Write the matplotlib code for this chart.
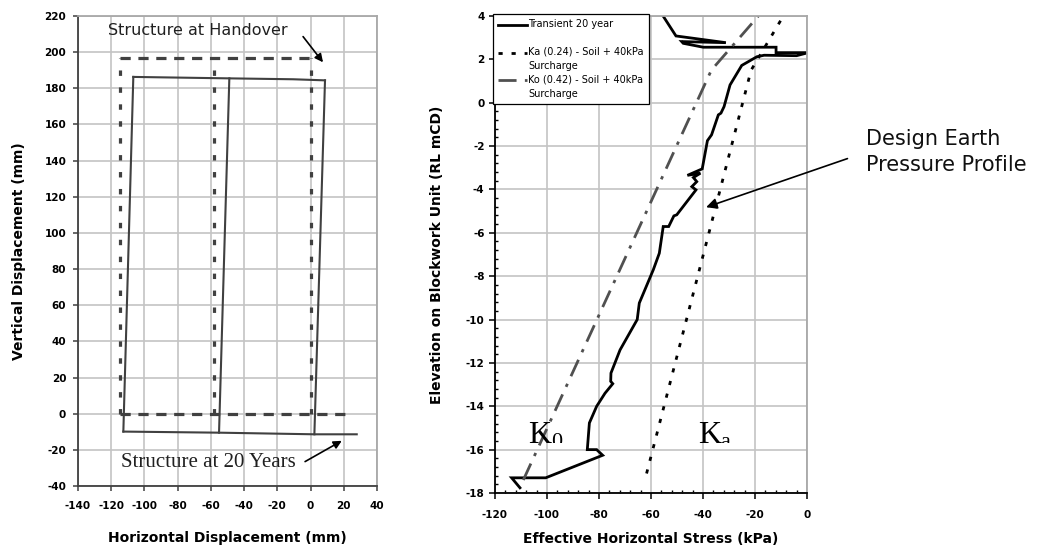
import matplotlib

matplotlib.use("Agg")
import matplotlib.pyplot as plt
import numpy as np
from matplotlib.legend_handler import HandlerLine2D
from matplotlib.ticker import MultipleLocator
from matplotlib.transforms import Bbox, TransformedBbox


# ---- left chart: wall displacement (mm) ----
handover_top_x = [-115, 0]
handover_top_y = [197, 197]
handover_base_x = [-115, 25]
handover_base_y = [0, 0]
handover_wall_x = [-115, -58, 0]
handover_wall_bottom = [0, 0, 0]
handover_wall_top = [197, 197, 197]

year20_top_x = [-106.7, -48.9, -10.4, 8.7]
year20_top_y = [186.3, 185.5, 185.0, 184.4]
year20_base_x = [-112.7, -55.1, 2.3, 27.8]
year20_base_y = [-9.9, -10.5, -11.4, -11.4]
year20_wall_base_x = [-112.7, -55.1, 2.3]
year20_wall_base_y = [-9.9, -10.5, -11.4]
year20_wall_top_x = [-106.7, -48.9, 8.7]
year20_wall_top_y = [186.3, 185.5, 184.4]

# ---- right chart: earth pressure profile ----
transient_stress = [-57.5, -50.4, -31.2, -48.2, -47.6, -39.9, -11.9, -11.9, 0.5, -4.0,
                    -16.5, -19.3, -25.1, -29.6, -31.9, -33.1, -34.1, -36.7, -38.3, -40.3,
                    -46.0, -41.0, -43.7, -42.4, -44.3, -42.7, -50.1, -51.2, -53.2, -55.3,
                    -56.8, -59.1, -64.5, -65.3, -71.9, -75.4, -75.5, -74.7, -77.7, -80.9,
                    -83.7, -84.5, -80.9, -78.6, -100.5, -113.6, -110.4]
transient_elev = [4.4, 3.08, 2.77, 2.82, 2.74, 2.56, 2.56, 2.31, 2.31, 2.17,
                  2.19, 2.12, 1.72, 0.82, -0.18, -0.48, -0.56, -1.48, -1.75, -3.05,
                  -3.35, -3.25, -3.45, -3.64, -3.87, -4.02, -5.17, -5.22, -5.71, -5.71,
                  -6.94, -7.7, -9.24, -10.0, -11.4, -12.47, -12.85, -12.96, -13.4, -14.0,
                  -14.77, -16.0, -16.0, -16.26, -17.3, -17.3, -17.76]

ka_stress = [-61.7, -21.5, -9.1]
ka_elev = [-17.1, 1.5, 4.0]
k0_stress = [-109.1, -36.8, -18.7]
k0_elev = [-17.4, 1.5, 4.0]

legend_labels = ["Transient 20 year\n",
                 "Ka (0.24) - Soil + 40kPa\nSurcharge",
                 "Ko (0.42) - Soil + 40kPa\nSurcharge"]

plt.rcParams["axes.unicode_minus"] = False
plt.rcParams["font.family"] = "DejaVu Sans"

W, H = 1044, 549
fig = plt.figure(figsize=(W / 100, H / 100), dpi=100)

GRID = "#c4c4c4"
DARK = "#404040"


def px_axes(left, top, right, bottom):
    return fig.add_axes([left / W, 1 - bottom / H, (right - left) / W, (bottom - top) / H])


def style_frame(ax, dark):
    for side in ("left", "bottom"):
        ax.spines[side].set_color(dark)
        ax.spines[side].set_linewidth(1.3)
    for side in ("top", "right"):
        ax.spines[side].set_color("#a8a8a8")
        ax.spines[side].set_linewidth(1.3)
    ax.grid(True, color=GRID, linewidth=1.2)
    ax.set_axisbelow(True)


# ---------------- left ----------------
ax1 = px_axes(78, 16, 377, 486)
ax1.set_xlim(-140, 40)
ax1.set_ylim(-40, 220)
ax1.xaxis.set_major_locator(MultipleLocator(20))
ax1.yaxis.set_major_locator(MultipleLocator(20))
style_frame(ax1, DARK)
ax1.tick_params(axis="both", direction="out", length=3.5, width=1.1, color=DARK, labelsize=7.5)
ax1.tick_params(axis="x", pad=7.5)
ax1.tick_params(axis="y", pad=5)
for lab in ax1.get_xticklabels() + ax1.get_yticklabels():
    lab.set_fontweight("bold")

dash = (0, (3.2, 2.4))
dots = (0, (1.7, 3.6))
ax1.plot(handover_top_x, handover_top_y, color=DARK, linewidth=2.3, linestyle=dash)
ax1.plot(handover_base_x, handover_base_y, color=DARK, linewidth=2.3, linestyle=dash)
ax1.vlines(handover_wall_x, handover_wall_bottom, handover_wall_top, color=DARK,
           linewidth=2.3, linestyles=[dots])

ax1.plot(year20_top_x, year20_top_y, color=DARK, linewidth=1.5)
ax1.plot(year20_base_x, year20_base_y, color=DARK, linewidth=1.5)
for xb, yb, xt, yt in zip(year20_wall_base_x, year20_wall_base_y,
                          year20_wall_top_x, year20_wall_top_y):
    ax1.plot([xb, xt], [yb, yt], color=DARK, linewidth=1.5)

ax1.text(-67.8, 212, "Structure at Handover", fontsize=11.5, ha="center", va="center",
         color="#202020")
ax1.annotate("", xy=(7.5, 194.4), xytext=(-4.5, 208.6),
             arrowprops=dict(arrowstyle="-|>", color="black", lw=1.2,
                             mutation_scale=12, shrinkA=0, shrinkB=0))
ax1.text(-61.7, -27, "Structure at 20 Years", fontsize=15, ha="center", va="center",
         family="Liberation Serif", color="#202020")
ax1.annotate("", xy=(18.8, -15), xytext=(-3.3, -26.5),
             arrowprops=dict(arrowstyle="-|>", color="black", lw=1.2,
                             mutation_scale=12, shrinkA=0, shrinkB=0))

ax1.set_xlabel("Horizontal Displacement (mm)", fontsize=10, fontweight="bold")
ax1.set_ylabel("Vertical Displacement (mm)", fontsize=10, fontweight="bold")
ax1.xaxis.set_label_coords(0.5, -0.096)
ax1.yaxis.set_label_coords(-0.175, 0.5)

# ---------------- right ----------------
ax2 = px_axes(495, 16, 807, 493)
ax2.set_xlim(-120, 0)
ax2.set_ylim(-18, 4)
ax2.xaxis.set_major_locator(MultipleLocator(20))
ax2.xaxis.set_minor_locator(MultipleLocator(4))
ax2.yaxis.set_major_locator(MultipleLocator(2))
ax2.yaxis.set_minor_locator(MultipleLocator(0.4))
style_frame(ax2, "black")
ax2.grid(False, which="minor")
ax2.tick_params(axis="both", which="major", direction="out", length=4, width=1.1,
                labelsize=7.5)
ax2.tick_params(axis="both", which="minor", direction="in", length=2.5, width=1.0)
ax2.tick_params(axis="x", which="major", pad=8.5)
ax2.tick_params(axis="y", which="major", pad=3.5)
for lab in ax2.get_xticklabels() + ax2.get_yticklabels():
    lab.set_fontweight("bold")

(l_tr,) = ax2.plot(transient_stress, transient_elev, color="black", linewidth=2.0,
                   solid_joinstyle="miter")
(l_ka,) = ax2.plot(ka_stress, ka_elev, color="black", linewidth=2.0,
                   linestyle=(0, (1.5, 3.2)))
(l_k0,) = ax2.plot(k0_stress, k0_elev, color="#505050", linewidth=2.0,
                   linestyle=(0, (6.5, 3.0, 1.2, 3.0)))


class FirstLineHandler(HandlerLine2D):
    def create_artists(self, legend, orig_handle, xdescent, ydescent, width, height,
                       fontsize, trans):
        arts = super().create_artists(legend, orig_handle, xdescent, ydescent, width,
                                      height, fontsize, trans)
        for a in arts:
            a.set_ydata(np.asarray(a.get_ydata()) + 0.72 * fontsize)
        return arts


leg = ax2.legend([l_tr, l_ka, l_k0], legend_labels, loc="upper left",
                 bbox_to_anchor=(-0.007, 1.004), fontsize=7.0, frameon=True,
                 fancybox=False, framealpha=1, edgecolor="black", borderaxespad=0,
                 handlelength=3.0, handletextpad=0.15, labelspacing=0.35,
                 borderpad=0.5, handler_map={l_tr: FirstLineHandler(),
                                             l_ka: FirstLineHandler(),
                                             l_k0: FirstLineHandler()})
leg.get_frame().set_linewidth(0.9)
for t in leg.get_texts():
    t.set_linespacing(1.55)

# K0 / Ka labels, subscripts clipped at the baseline like the original
clip = TransformedBbox(Bbox([[-120, -15.68], [0, 4]]), ax2.transData)
for x0, main, sub in [(-107.3, "K", "0"), (-41.9, "K", "a")]:
    ax2.text(x0, -15.68, main, fontsize=23, family="Liberation Serif",
             ha="left", va="baseline")
    t2 = ax2.text(x0 + 8.7, -15.9, sub, fontsize=16, family="Liberation Serif",
                  ha="left", va="baseline")
    t2.set_clip_box(clip)
    t2.set_clip_on(True)

ax2.annotate("Design Earth\nPressure Profile", xy=(-38.8, -4.82), xycoords="data",
             xytext=(866 / W, 1 - 129 / H), textcoords="figure fraction",
             fontsize=15, ha="left", va="top", linespacing=1.4, color="#101010",
             arrowprops=dict(arrowstyle="-|>", color="black", lw=1.2, mutation_scale=16,
                             relpos=(0, 0.5), shrinkA=12, shrinkB=0))

ax2.set_xlabel("Effective Horizontal Stress (kPa)", fontsize=10, fontweight="bold")
ax2.set_ylabel("Elevation on Blockwork Unit (RL mCD)", fontsize=10, fontweight="bold")
ax2.xaxis.set_label_coords(0.5, -0.081)
ax2.yaxis.set_label_coords(-0.163, 0.5)

fig.savefig("out.png", dpi=100)
plt.close(fig)
